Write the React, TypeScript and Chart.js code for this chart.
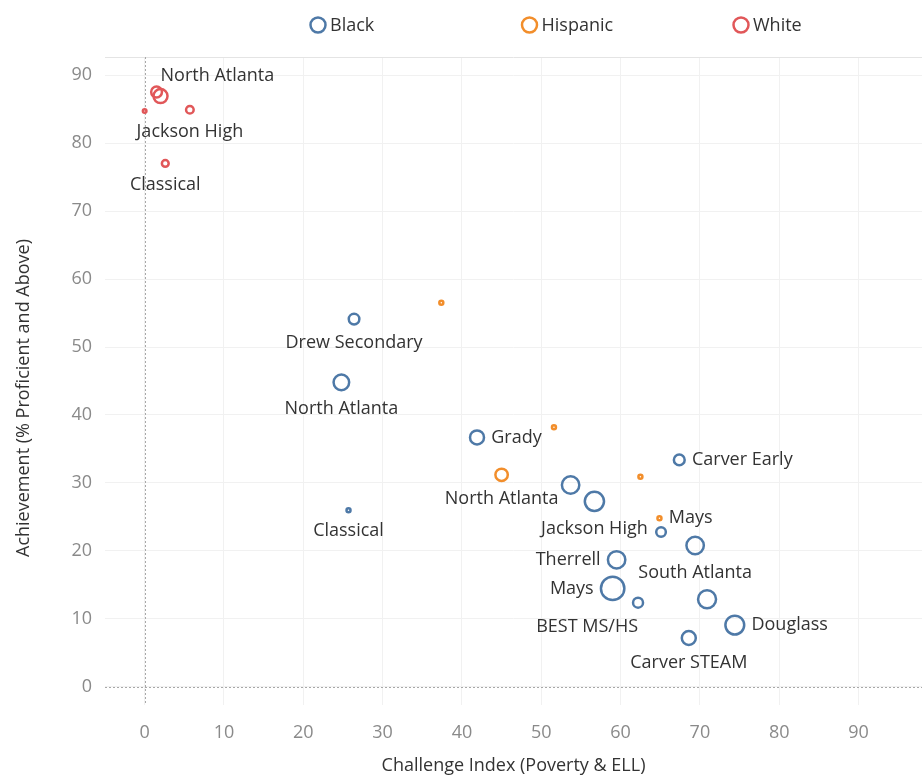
import React, { useEffect, useRef } from "react";
import { Chart, registerables } from "chart.js";

Chart.register(...registerables);

// ---------- data ----------
const seriesNames = ["Black", "Hispanic", "White"];
const seriesColors = ["#4e79a7", "#f28e2b", "#e15759"];

const blackSchools = ["Drew Secondary", "North Atlanta", "Classical", "Grady", "Carver Early", "", "Jackson High", "", "South Atlanta", "Therrell", "Mays", "BEST MS/HS", "", "Douglass", "Carver STEAM"];
const blackChallenge = [26.4, 24.8, 25.7, 41.9, 67.4, 53.7, 56.7, 65.1, 69.4, 59.5, 59.0, 62.2, 70.9, 74.4, 68.6];
const blackAchievement = [54.1, 44.8, 26.0, 36.7, 33.4, 29.7, 27.3, 22.8, 20.8, 18.7, 14.5, 12.4, 12.9, 9.1, 7.2];
const blackSize = [5.3, 7.8, 2, 7, 5.4, 8.7, 9.6, 4.8, 8.7, 8.7, 11.7, 5, 9, 9.4, 7];

const hispanicSchools = ["", "", "North Atlanta", "", "Mays"];
const hispanicChallenge = [37.4, 51.6, 45.0, 62.5, 64.9];
const hispanicAchievement = [56.5, 38.2, 31.2, 30.9, 24.8];
const hispanicSize = [2, 2, 6.2, 2, 2];

const whiteSchools = ["", "Jackson High", "", "North Atlanta", "Classical"];
const whiteChallenge = [0, 5.7, 1.5, 2.0, 2.6];
const whiteAchievement = [84.7, 84.9, 87.5, 86.9, 77.0];
const whiteSize = [1.8, 3.8, 5.4, 7, 3.4];

const xTicks = [0, 10, 20, 30, 40, 50, 60, 70, 80, 90];
const yTicks = [0, 10, 20, 30, 40, 50, 60, 70, 80, 90];

const xTitle = "Challenge Index (Poverty & ELL)";
const yTitle = "Achievement (% Proficient and Above)";

// ---------- label placement (style) ----------
const blackPlacement = ["below", "below", "below", "right", "right", "", "below", "", "below", "left", "left", "belowLeft", "", "right", "below"];
const hispanicPlacement = ["", "", "below", "", "right"];
const whitePlacement = ["", "below", "", "aboveRight", "below"];

const FONT = "'Open Sans', 'Noto Sans', sans-serif";
const TEXT_COLOR = "#333333";
const TICK_COLOR = "#8a8a8a";

const seriesSchools = [blackSchools, hispanicSchools, whiteSchools];
const seriesPlacement = [blackPlacement, hispanicPlacement, whitePlacement];

function buildPoints(xs: number[], ys: number[], rs: number[]) {
  return xs.map((x, i) => ({ x, y: ys[i], r: rs[i] }));
}

const decorPlugin = {
  id: "decor",
  beforeDatasetsDraw(chart: any) {
    const { ctx, chartArea, scales } = chart;
    ctx.save();
    // top border
    ctx.strokeStyle = "#e4e4e4";
    ctx.lineWidth = 1;
    ctx.beginPath();
    ctx.moveTo(chartArea.left, chartArea.top + 0.5);
    ctx.lineTo(chartArea.right, chartArea.top + 0.5);
    ctx.stroke();
    // zero lines
    ctx.strokeStyle = "#a8a8a8";
    ctx.setLineDash([2, 2]);
    const x0 = Math.round(scales.x.getPixelForValue(0)) + 0.5;
    const y0 = Math.round(scales.y.getPixelForValue(0)) + 0.5;
    ctx.beginPath();
    ctx.moveTo(x0, chartArea.top);
    ctx.lineTo(x0, chartArea.bottom);
    ctx.stroke();
    ctx.beginPath();
    ctx.moveTo(chartArea.left, y0);
    ctx.lineTo(chartArea.right, y0);
    ctx.stroke();
    ctx.restore();
  },
  afterDatasetsDraw(chart: any) {
    const ctx = chart.ctx;
    ctx.save();
    ctx.font = `18px ${FONT}`;
    ctx.fillStyle = TEXT_COLOR;
    ctx.textBaseline = "middle";
    chart.data.datasets.forEach((_ds: any, i: number) => {
      const meta = chart.getDatasetMeta(i);
      meta.data.forEach((el: any, j: number) => {
        const name = seriesSchools[i][j];
        const place = seriesPlacement[i][j];
        if (!name) return;
        const R = el.options.radius + el.options.borderWidth / 2;
        let x = el.x;
        let y = el.y;
        let align: CanvasTextAlign = "center";
        if (place === "below") {
          y = el.y + R + 17;
        } else if (place === "right") {
          x = el.x + R + 6;
          align = "left";
        } else if (place === "left") {
          x = el.x - R - 6;
          align = "right";
        } else if (place === "belowLeft") {
          x = el.x;
          y = el.y + R + 17.5;
          align = "right";
        } else if (place === "aboveRight") {
          x = el.x;
          y = el.y - R - 12;
          align = "left";
        }
        ctx.textAlign = align;
        ctx.fillText(name, x, y);
      });
    });
    ctx.restore();
  },
  afterDraw(chart: any) {
    const ctx = chart.ctx;
    ctx.save();
    // legend
    ctx.font = `18px ${FONT}`;
    ctx.textBaseline = "middle";
    ctx.textAlign = "left";
    const startX = 318;
    const step = 211.5;
    const cy = 25;
    seriesNames.forEach((name, i) => {
      const cx = startX + i * step;
      ctx.strokeStyle = seriesColors[i];
      ctx.lineWidth = 2.5;
      ctx.beginPath();
      ctx.arc(cx, cy, 7.5, 0, Math.PI * 2);
      ctx.stroke();
      ctx.fillStyle = TEXT_COLOR;
      ctx.fillText(name, cx + 12, cy + 1);
    });
    // y axis title
    ctx.translate(24, 398);
    ctx.rotate(-Math.PI / 2);
    ctx.textAlign = "center";
    ctx.fillStyle = TEXT_COLOR;
    ctx.fillText(yTitle, 0, 0);
    ctx.restore();
  },
};

export default function App() {
  const canvasRef = useRef<HTMLCanvasElement | null>(null);

  useEffect(() => {
    if (!canvasRef.current) return;
    Chart.defaults.font.family = FONT;
    const allX = [blackChallenge, hispanicChallenge, whiteChallenge];
    const allY = [blackAchievement, hispanicAchievement, whiteAchievement];
    const allR = [blackSize, hispanicSize, whiteSize];
    const chart = new Chart(canvasRef.current, {
      type: "bubble",
      data: {
        datasets: seriesNames.map((name, i) => ({
          label: name,
          data: buildPoints(allX[i], allY[i], allR[i]),
          borderColor: seriesColors[i],
          backgroundColor: "rgba(255,255,255,0)",
          borderWidth: 2.5,
          hoverBorderWidth: 2.5,
        })),
      },
      options: {
        responsive: false,
        animation: false,
        devicePixelRatio: 1,
        layout: { autoPadding: false, padding: { top: 57, right: 0, bottom: 0, left: 0 } },
        plugins: {
          legend: { display: false },
          tooltip: { enabled: false },
        },
        scales: {
          x: {
            type: "linear",
            min: -5,
            max: 98,
            afterBuildTicks: (axis: any) => {
              axis.ticks = xTicks.map((v) => ({ value: v }));
            },
            afterFit: (axis: any) => {
              axis.height = 75;
            },
            grid: { color: "#f1f1f1", drawTicks: false },
            border: { display: false },
            ticks: { color: TICK_COLOR, font: { size: 18 }, padding: 17 },
            title: {
              display: true,
              text: xTitle,
              color: TEXT_COLOR,
              font: { size: 18 },
              padding: { top: 0, bottom: 3 },
            },
          },
          y: {
            type: "linear",
            min: -2.65,
            max: 92.65,
            afterBuildTicks: (axis: any) => {
              axis.ticks = yTicks.map((v) => ({ value: v }));
            },
            afterFit: (axis: any) => {
              axis.width = 105;
            },
            grid: { color: "#f1f1f1", drawTicks: false },
            border: { display: false },
            ticks: { color: TICK_COLOR, font: { size: 18 }, padding: 13 },
            title: { display: false },
          },
        },
      },
      plugins: [decorPlugin],
    });
    return () => chart.destroy();
  }, []);

  return (
    <div style={{ position: "absolute", left: 0, top: 0, width: 922, height: 780, background: "#ffffff" }}>
      <canvas ref={canvasRef} width={922} height={780} style={{ width: 922, height: 780, display: "block" }} />
    </div>
  );
}
